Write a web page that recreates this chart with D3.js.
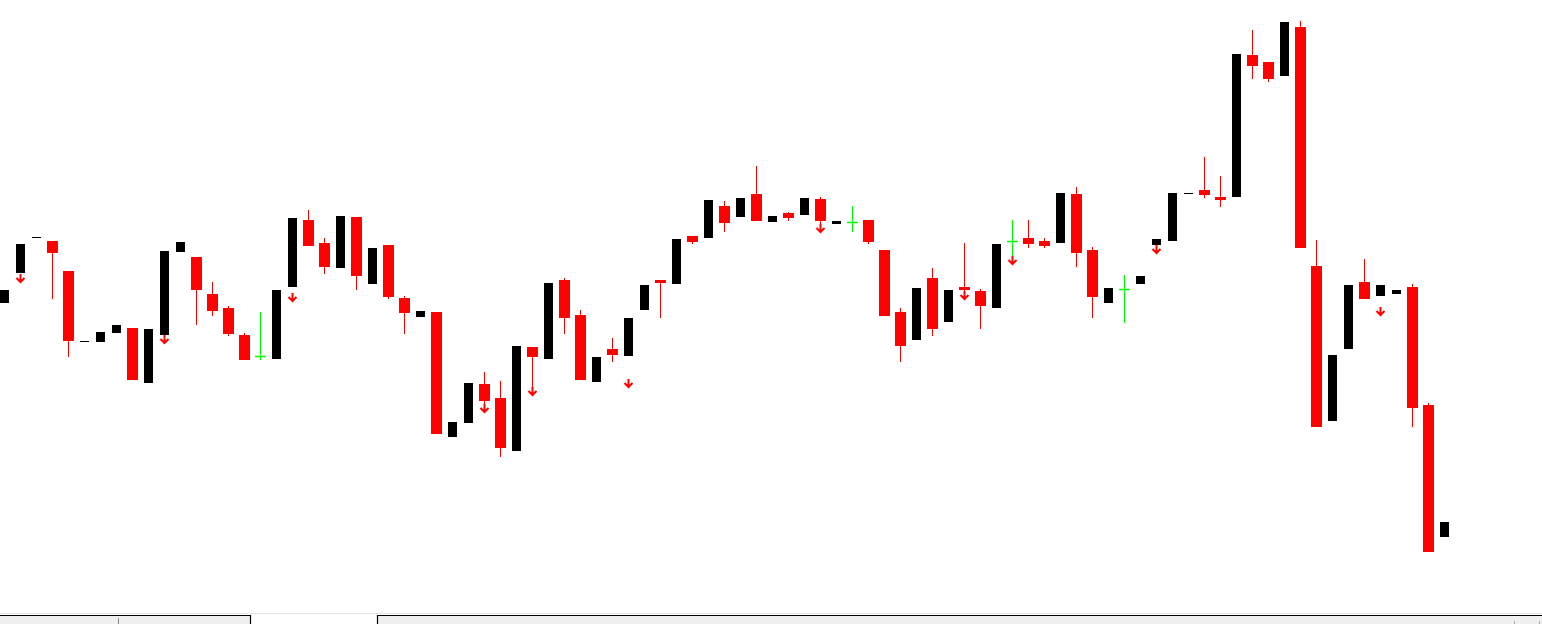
<!DOCTYPE html>
<html>
<head>
<meta charset="utf-8">
<script src="https://cdn.jsdelivr.net/npm/d3@7"></script>
<style>
  html, body { margin: 0; padding: 0; background: #fff; overflow: hidden; }
  svg { display: block; }
</style>
</head>
<body>
<div id="chart"></div>
<script>
// OHLC prices, one entry per bar (left to right)
var openP = [1.2321,1.2351,1.2387,1.2383,1.2353,1.2283,1.2282,1.2291,1.2296,1.2241,
             1.2289,1.2372,1.2367,1.2330,1.2316,1.2289,1.2268,1.2265,1.2337,1.2404,
             1.2381,1.2356,1.2407,1.2340,1.2379,1.2326,1.2307,1.2312,1.2187,1.2201,
             1.2240,1.2226,1.2173,1.2277,1.2265,1.2344,1.2309,1.2242,1.2275,1.2268,
             1.2314,1.2344,1.2340,1.2388,1.2386,1.2418,1.2407,1.2430,1.2402,1.2411,
             1.2409,1.2425,1.2400,1.2402,1.2404,1.2374,1.2312,1.2284,1.2346,1.2302,
             1.2337,1.2333,1.2316,1.2383,1.2386,1.2383,1.2381,1.2430,1.2374,1.2321,
             1.2335,1.2340,1.2379,1.2383,1.2431,1.2434,1.2427,1.2427,1.2569,1.2562,
             1.2548,1.2597,1.2358,1.2203,1.2275,1.2342,1.2328,1.2330,1.2337,1.2219,
             1.2087];
var highP = [1.2334,1.2380,1.2387,1.2383,1.2353,1.2283,1.2292,1.2299,1.2296,1.2295,
             1.2373,1.2382,1.2367,1.2342,1.2318,1.2291,1.2312,1.2334,1.2406,1.2414,
             1.2386,1.2408,1.2407,1.2376,1.2379,1.2328,1.2313,1.2312,1.2202,1.2241,
             1.2252,1.2243,1.2278,1.2277,1.2341,1.2346,1.2314,1.2267,1.2286,1.2306,
             1.2339,1.2344,1.2385,1.2388,1.2424,1.2423,1.2426,1.2458,1.2408,1.2412,
             1.2426,1.2427,1.2403,1.2418,1.2404,1.2374,1.2316,1.2336,1.2356,1.2334,
             1.2381,1.2335,1.2380,1.2404,1.2404,1.2386,1.2431,1.2437,1.2377,1.2336,
             1.2349,1.2348,1.2385,1.2431,1.2431,1.2467,1.2448,1.2570,1.2594,1.2562,
             1.2602,1.2603,1.2384,1.2269,1.2339,1.2365,1.2339,1.2334,1.2340,1.2221,
             1.2102];
var lowP  = [1.2321,1.2351,1.2387,1.2325,1.2267,1.2283,1.2282,1.2291,1.2244,1.2241,
             1.2289,1.2372,1.2299,1.2308,1.2288,1.2264,1.2264,1.2265,1.2337,1.2378,
             1.2350,1.2356,1.2334,1.2340,1.2325,1.2290,1.2307,1.2190,1.2187,1.2201,
             1.2220,1.2167,1.2173,1.2237,1.2265,1.2290,1.2244,1.2242,1.2262,1.2268,
             1.2314,1.2306,1.2340,1.2380,1.2386,1.2392,1.2407,1.2403,1.2402,1.2403,
             1.2409,1.2400,1.2400,1.2392,1.2380,1.2308,1.2262,1.2284,1.2288,1.2302,
             1.2333,1.2295,1.2316,1.2367,1.2376,1.2376,1.2381,1.2357,1.2306,1.2321,
             1.2301,1.2340,1.2379,1.2383,1.2431,1.2426,1.2417,1.2427,1.2545,1.2542,
             1.2548,1.2376,1.2197,1.2203,1.2275,1.2325,1.2328,1.2330,1.2197,1.2072,
             1.2087];
var closeP = [1.2334,1.2380,1.2387,1.2371,1.2283,1.2283,1.2292,1.2299,1.2244,1.2295,
              1.2373,1.2382,1.2334,1.2313,1.2290,1.2264,1.2268,1.2334,1.2406,1.2378,
              1.2357,1.2408,1.2348,1.2376,1.2327,1.2311,1.2313,1.2190,1.2202,1.2241,
              1.2223,1.2176,1.2278,1.2267,1.2341,1.2306,1.2244,1.2267,1.2269,1.2306,
              1.2339,1.2341,1.2385,1.2382,1.2424,1.2401,1.2426,1.2403,1.2408,1.2406,
              1.2426,1.2403,1.2403,1.2402,1.2382,1.2308,1.2278,1.2336,1.2295,1.2334,
              1.2334,1.2318,1.2380,1.2383,1.2380,1.2378,1.2431,1.2371,1.2327,1.2336,
              1.2335,1.2348,1.2385,1.2431,1.2431,1.2429,1.2424,1.2570,1.2558,1.2545,
              1.2602,1.2376,1.2197,1.2269,1.2339,1.2325,1.2339,1.2334,1.2216,1.2072,
              1.2102];

// down-arrow signals: bar index and price of the arrow tip top
var arrowBars   = [1, 10, 18, 30, 33, 39, 51, 60, 63, 72, 86];
var arrowPrices = [1.2350,1.2289,1.2331,1.2220,1.2237,1.2245,1.2400,1.2333,1.2368,1.2379,1.2317];

var width = 1542, height = 624;
var plotBottom = 613;

var svg = d3.select("#chart").append("svg")
    .attr("width", width)
    .attr("height", height);

var x = d3.scaleLinear()
    .domain([0, 90])
    .range([4.5, 1444.5]);

var y = d3.scaleLinear()
    .domain([1.2, 1.2624])
    .range([624, 0]);

var bars = d3.range(openP.length).map(function(i){
    return { i: i, o: openP[i], h: highP[i], l: lowP[i], c: closeP[i] };
});

var g = svg.append("g");

// wicks (down bars red, doji green)
g.selectAll(".wick")
    .data(bars.filter(function(d){ return d.c < d.o || (d.c == d.o && d.h > d.l); }))
  .enter().append("line")
    .attr("class", "wick")
    .attr("x1", function(d){ return x(d.i); })
    .attr("x2", function(d){ return x(d.i); })
    .attr("y1", function(d){ return Math.round(y(d.h)); })
    .attr("y2", function(d){ return Math.round(y(d.l)); })
    .attr("stroke", function(d){ return d.c < d.o ? "#ff0000" : "#00ff00"; })
    .attr("stroke-width", 1);

// bodies
g.selectAll(".body")
    .data(bars.filter(function(d){ return !(d.c == d.o && d.h > d.l); }))
  .enter().append("rect")
    .attr("class", "body")
    .attr("x", function(d){ return x(d.i) - (d.c < d.o ? 5.5 : 4.5); })
    .attr("width", function(d){ return d.c < d.o ? 11 : 9; })
    .attr("y", function(d){ return Math.round(y(Math.max(d.o, d.c))); })
    .attr("height", function(d){
        var hgt = Math.round(y(Math.min(d.o, d.c))) - Math.round(y(Math.max(d.o, d.c)));
        return Math.max(hgt, 1);
    })
    .attr("fill", function(d){ return d.c < d.o ? "#ff0000" : "#000000"; });

// doji crosses
g.selectAll(".cross")
    .data(bars.filter(function(d){ return d.c == d.o && d.h > d.l; }))
  .enter().append("line")
    .attr("class", "cross")
    .attr("x1", function(d){ return x(d.i) - 5.5; })
    .attr("x2", function(d){ return x(d.i) + 5.5; })
    .attr("y1", function(d){ return Math.round(y(d.o)) + 0.5; })
    .attr("y2", function(d){ return Math.round(y(d.o)) + 0.5; })
    .attr("stroke", "#00ff00")
    .attr("stroke-width", 1.5);

// arrows
g.selectAll(".arrow")
    .data(arrowBars.map(function(b, k){ return { i: b, p: arrowPrices[k] }; }))
  .enter().append("path")
    .attr("class", "arrow")
    .attr("d", function(d){
        var cx = x(d.i), ty = y(d.p);
        return "M" + cx + "," + ty + "V" + (ty + 8) +
               "M" + (cx - 4) + "," + (ty + 4) + "L" + cx + "," + (ty + 8) + "L" + (cx + 4) + "," + (ty + 4);
    })
    .attr("fill", "none")
    .attr("stroke", "#ff0000")
    .attr("stroke-width", 2)
    .attr("stroke-linejoin", "miter");

// bottom tab strip
var tabs = svg.append("g");
tabs.append("rect").attr("x", 0).attr("y", plotBottom).attr("width", width).attr("height", 1).attr("fill", "#e3e3e3");
tabs.append("rect").attr("x", 0).attr("y", 616).attr("width", width).attr("height", 8).attr("fill", "#f0f0f0");
tabs.append("rect").attr("x", 251).attr("y", 614).attr("width", 126).attr("height", 10).attr("fill", "#ffffff");
tabs.append("path")
    .attr("d", "M0,615.5H250.5V624M377.5,624V615.5H" + width)
    .attr("fill", "none").attr("stroke", "#000").attr("stroke-width", 1.2);
tabs.append("line").attr("x1", 118.5).attr("x2", 118.5).attr("y1", 618).attr("y2", 624)
    .attr("stroke", "#888").attr("stroke-width", 1);
[1514.5, 1539.5].forEach(function(px){
    tabs.append("line").attr("x1", px).attr("x2", px).attr("y1", 621).attr("y2", 624)
        .attr("stroke", "#aaa").attr("stroke-width", 1);
});
</script>
</body>
</html>
